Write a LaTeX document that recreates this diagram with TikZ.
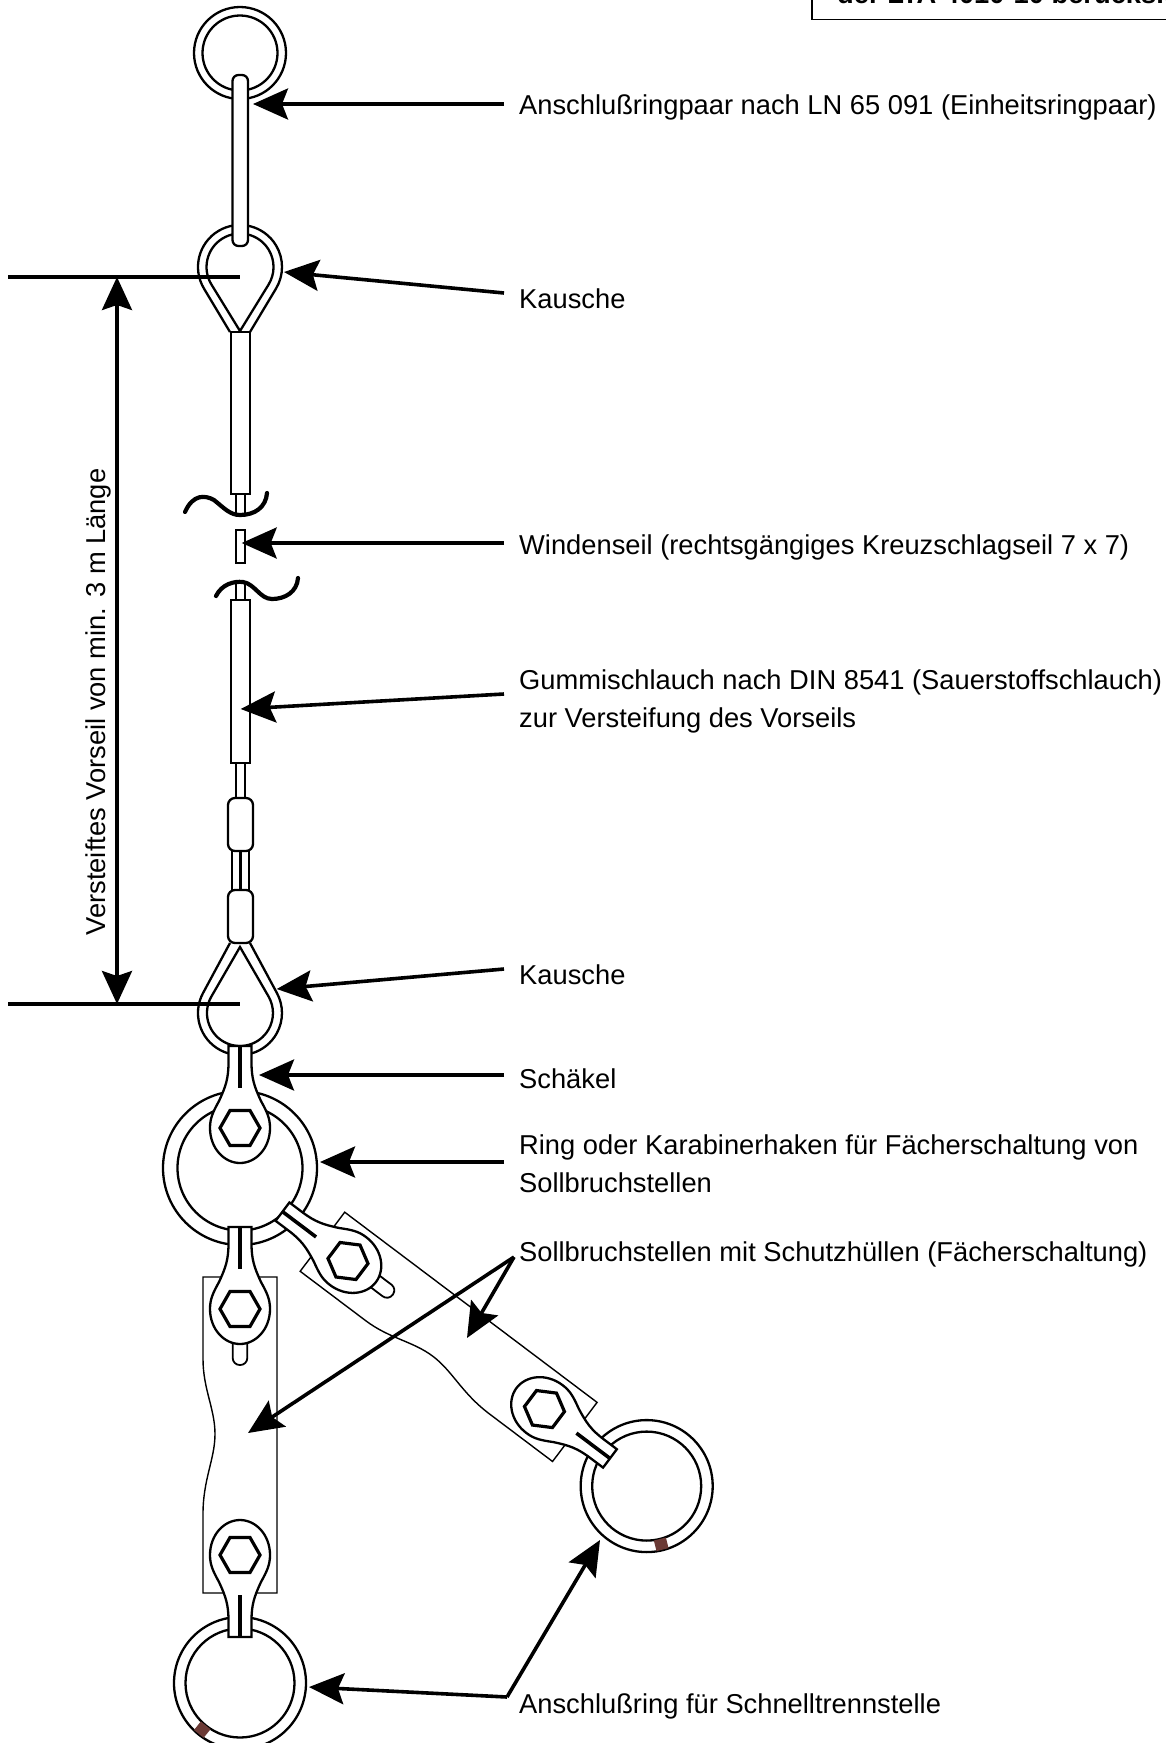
\documentclass[tikz,border=0pt]{standalone}
\usepackage{fontspec}
\setmainfont{Liberation Sans}
\usetikzlibrary{arrows.meta,calc}
\definecolor{brownmark}{HTML}{6B3A35}
\tikzset{
  x=1pt,y=1pt,
  part/.style={draw=black,line width=2.3pt,fill=white},
  partline/.style={draw=black,line width=2.3pt},
  sheath/.style={draw=black,line width=1.4pt},
  hexbolt/.style={draw=black,line width=3.2pt,line join=miter},
  wave/.style={draw=black,line width=4.2pt,line cap=round},
  dimline/.style={draw=black,line width=3.6pt},
  pointer/.style={draw=black,line width=3.6pt,-{Stealth[length=35pt,width=31pt,inset=6pt]}},
  lbl/.style={anchor=west,inner sep=0pt,font=\fontsize{27.3}{38}\selectfont,align=left},
}
\newcommand{\hexagon}{\draw[hexbolt] (20,0)--(10,17.5)--(-10,17.5)--(-20,0)--(-10,-17.5)--(10,-17.5)--cycle;}
% shackle: hex at origin, neck pointing to local +y up (len 82)
\newcommand{\shackle}{%
  \path[part] (-11.5,82) -- (11.5,82) -- (11.5,66) .. controls (11.5,50) and (14,42) .. (21,27)
    .. controls (27,16) and (30,10) .. (30,0) .. controls (30,-20) and (16,-35) .. (0,-35)
    .. controls (-16,-35) and (-30,-20) .. (-30,0) .. controls (-30,10) and (-27,16) .. (-21,27)
    .. controls (-14,42) and (-11.5,50) .. (-11.5,66) -- cycle;
  \draw[partline,line width=3.6pt] (0,82) -- (0,40);
  \hexagon
}
% protective sheath, in the frame of the upper shackle (hex at origin, neck up)
\newcommand{\sheathbody}{%
  \draw[sheath,fill=white] (-37,32) -- (-37,-50) .. controls (-37,-80) and (-25,-100) .. (-25,-125)
    .. controls (-25,-150) and (-37,-170) .. (-37,-205) -- (-37,-284) -- (37,-284) -- (37,32) -- cycle;
  \draw[sheath,line width=1.8pt,fill=white] (-7.3,-30) -- (-7.3,-49) arc[start angle=180,end angle=270,radius=7] -- (0.3,-56) arc[start angle=270,end angle=360,radius=7] -- (7.3,-30);
}
\newcommand{\smallring}{%
  \draw[partline,fill=white,even odd rule] (0,0) circle[radius=66] (0,0) circle[radius=54.5];
}
\begin{document}
\begin{tikzpicture}
\useasboundingbox (0,0) rectangle (1166,-1743);
% header (cut off by the page edge)
\draw[black,line width=1.4pt] (812,10) -- (812,-19.5) -- (1170,-19.5);
\node[anchor=base west,inner sep=0pt,font=\fontsize{27.3}{30}\selectfont\bfseries] (hdr) at (837,-3) {der LTA 4010-10 berücksichtigt};
% top ring and link
\coordinate (topring) at (240,-53);
\draw[partline] (topring) circle[radius=46] (topring) circle[radius=37.5];
% upper thimble
\begin{scope}[shift={(240,-267)}]
  \draw[partline] (-10,-65) -- (-36,-21.6) arc[start angle=211,end angle=-31,radius=42] -- (10,-65);
  \draw[partline] (0,-64) -- (-28.5,-17.6) arc[start angle=211.6,end angle=-31.6,radius=33.5] -- cycle;
\end{scope}
\draw[part,rounded corners=6pt] (232.5,-75) rectangle (248,-246);
% upper hose and wire
\draw[part] (231,-332) rectangle (250,-494);
\draw[partline] (236,-494) -- (236,-513) (244.7,-494) -- (244.7,-513);
\draw[wave] (185,-512) .. controls (193,-494) and (205,-495) .. (214,-500) .. controls (224,-508) and (230,-515) .. (240,-515) .. controls (255,-515) and (266,-507) .. (267,-493);
\draw[part] (236,-530) rectangle (245,-563);
\draw[partline] (236,-582) -- (236,-600) (244.7,-582) -- (244.7,-600);
\draw[wave] (216,-596) .. controls (222,-584) and (234,-581) .. (243,-582) .. controls (255,-584) and (260,-599) .. (272,-599) .. controls (285,-599) and (297,-592) .. (298,-578);
\draw[part] (231,-600) rectangle (250,-763);
% wire to ferrules
\draw[partline] (236,-763) -- (236,-798) (244.7,-763) -- (244.7,-798);
\draw[part,rounded corners=7pt] (228,-798) rectangle (253,-851);
\draw[partline] (232,-851) -- (232,-890) (249,-851) -- (249,-890);
\draw[partline,line width=3pt] (240,-851) -- (240,-890);
% lower thimble
\begin{scope}[shift={(240,-1013)}]
  \draw[partline] (-10,70) -- (-37,19.9) arc[start angle=151.7,end angle=388.3,radius=42] -- (10,70);
  \draw[partline] (0,66) -- (-28.6,16.5) arc[start angle=150,end angle=390,radius=33] -- cycle;
\end{scope}
\draw[part,rounded corners=7pt] (228,-890) rectangle (253,-943);
% big ring
\coordinate (bigring) at (240,-1168);
\draw[partline,fill=white,even odd rule] (bigring) circle[radius=77] (bigring) circle[radius=62.5];
% shackle from thimble to big ring
\begin{scope}[shift={(240,-1128)}]\shackle\end{scope}
% vertical assembly
\begin{scope}[shift={(240,-1309)}]
  \sheathbody
  \begin{scope}\shackle\end{scope}
  \begin{scope}[shift={(0,-374)}]
    \smallring
    \fill[brownmark,rotate=-39] (-6.2,-65.5) rectangle (6.2,-54.5);
  \end{scope}
  \begin{scope}[shift={(0,-246)},yscale=-1]\shackle\end{scope}
\end{scope}
% slanted assembly
\begin{scope}[shift={(348,-1261)},rotate=53]
  \sheathbody
  \begin{scope}\shackle\end{scope}
  \begin{scope}[shift={(0,-374)},rotate=-53]
    \smallring
    \fill[brownmark,rotate=14] (-6.2,-65.5) rectangle (6.2,-54.5);
  \end{scope}
  \begin{scope}[shift={(0,-246)},yscale=-1]\shackle\end{scope}
\end{scope}
% dimension
\coordinate (dimtopl) at (8,-277);
\coordinate (dimtopr) at (240,-277);
\coordinate (dimbotl) at (8,-1004);
\coordinate (dimbotr) at (240,-1004);
\draw[dimline] (dimtopl) -- (dimtopr);
\draw[dimline] (dimbotl) -- (dimbotr);
\coordinate (dimtop) at (117,-277);
\coordinate (dimbot) at (117,-1004);
\draw[dimline,{Stealth[length=33pt,width=30pt,inset=5pt]}-{Stealth[length=33pt,width=30pt,inset=5pt]}] (dimtop) -- (dimbot);
\node[inner sep=0pt,rotate=90,font=\fontsize{27.3}{30}\selectfont] (dimtext) at (98,-702) {Versteiftes Vorseil von min. 3 m Länge};
% labels
\node[lbl] (l1) at (519,-107) {Anschlußringpaar nach LN 65 091 (Einheitsringpaar)};
\node[lbl] (l2) at (519,-299) {Kausche};
\node[lbl] (l3) at (519,-547) {Windenseil (rechtsgängiges Kreuzschlagseil 7 x 7)};
\node[lbl] (l4) at (519,-701) {Gummischlauch nach DIN 8541 (Sauerstoffschlauch)\\zur Versteifung des Vorseils};
\node[lbl] (l5) at (519,-975) {Kausche};
\node[lbl] (l6) at (519,-1079) {Schäkel};
\node[lbl] (l7) at (519,-1164) {Ring oder Karabinerhaken für Fächerschaltung von\\Sollbruchstellen};
\node[lbl] (l8) at (519,-1254) {Sollbruchstellen mit Schutzhüllen (Fächerschaltung)};
\node[lbl] (l9) at (519,-1706) {Anschlußring für Schnelltrennstelle};
% connector ends
\coordinate (t1s) at (504,-104); \coordinate (t1) at (253,-104);
\coordinate (t2s) at (504,-293); \coordinate (t2) at (284,-272);
\coordinate (t3s) at (504,-543); \coordinate (t3) at (241.7,-543);
\coordinate (t4s) at (504,-694); \coordinate (t4) at (240.7,-709);
\coordinate (t5s) at (504,-969); \coordinate (t5) at (276.7,-989);
\coordinate (t6s) at (504,-1075); \coordinate (t6) at (259,-1075);
\coordinate (t7s) at (504,-1162); \coordinate (t7) at (320,-1162);
\coordinate (t8s) at (514,-1257); \coordinate (t8a) at (467,-1338); \coordinate (t8b) at (248,-1433);
\coordinate (t9s) at (507,-1697); \coordinate (t9a) at (600,-1540); \coordinate (t9b) at (309,-1687);
\draw[pointer] (t1s) -- (t1);
\draw[pointer] (t2s) -- (t2);
\draw[pointer] (t3s) -- (t3);
\draw[pointer] (t4s) -- (t4);
\draw[pointer] (t5s) -- (t5);
\draw[pointer] (t6s) -- (t6);
\draw[pointer] (t7s) -- (t7);
\draw[pointer] (t8s) -- (t8a);
\draw[pointer] (t8s) -- (t8b);
\draw[pointer] (t9s) -- (t9a);
\draw[pointer] (t9s) -- (t9b);
\end{tikzpicture}
\end{document}
